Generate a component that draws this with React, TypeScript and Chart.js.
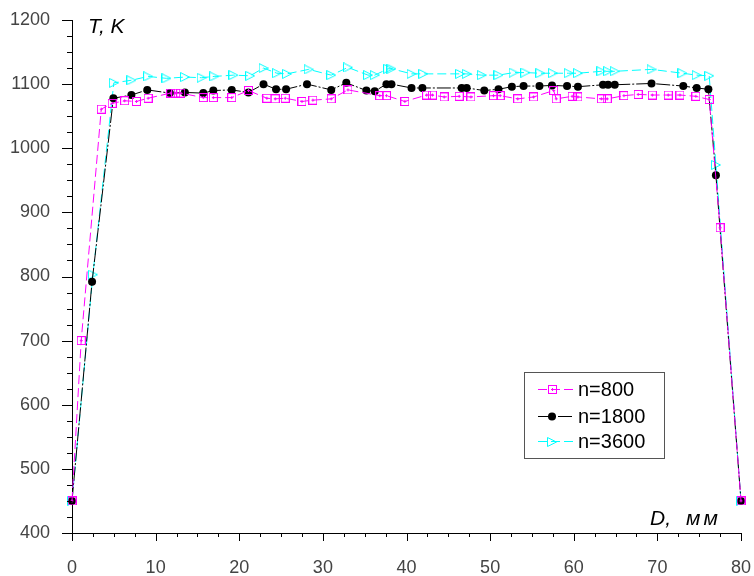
import React, { useEffect, useRef } from 'react';
import { Chart, registerables } from 'chart.js';
Chart.register(...registerables);

// ---- data ----
const seriesLabels = ['n=800', 'n=1800', 'n=3600'];

const d800 = [0, 1.1, 3.5, 4.8, 6.3, 7.7, 9.1, 11.8, 12.4, 13.0, 15.7, 16.9, 19.1, 21.1, 23.3, 24.3, 25.5, 27.5, 28.8, 31.0, 33.0, 36.8, 37.6, 39.8, 42.4, 43.1, 44.5, 46.3, 47.7, 50.4, 51.2, 53.3, 55.2, 57.6, 57.9, 59.8, 60.5, 63.3, 64.0, 66.0, 67.7, 69.4, 71.3, 72.7, 74.6, 76.2, 77.5, 80];
const t800 = [450, 700, 1061, 1070, 1074, 1073, 1078, 1086, 1086, 1086, 1079, 1079, 1079, 1090, 1078, 1077, 1078, 1073, 1075, 1077, 1091, 1082, 1082, 1073, 1083, 1083, 1080, 1081, 1080, 1082, 1082, 1077, 1080, 1090, 1077, 1081, 1080, 1077, 1077, 1082, 1084, 1083, 1083, 1083, 1081, 1076, 876, 450];

const d1800 = [0, 2.4, 4.95, 7.1, 9.0, 11.7, 13.5, 15.7, 16.9, 19.1, 21.1, 22.9, 24.4, 25.6, 28.1, 31.0, 32.8, 35.2, 36.2, 37.6, 38.2, 40.6, 41.9, 46.6, 47.2, 49.3, 51.0, 52.6, 54.0, 55.9, 57.4, 59.2, 60.5, 63.5, 64.1, 64.9, 69.3, 73.1, 74.7, 76.1, 77.0, 80];
const t1800 = [450, 792, 1078, 1083, 1091, 1086, 1087, 1086, 1090, 1091, 1087, 1100, 1092, 1092, 1100, 1091, 1102, 1090, 1089, 1100, 1100, 1094, 1094, 1094, 1094, 1090, 1092, 1096, 1097, 1097, 1098, 1097, 1096, 1099, 1099, 1099, 1101, 1097, 1094, 1092, 958, 450];

const d3600 = [0, 2.5, 5.0, 7.1, 9.1, 11.3, 13.5, 15.5, 17.0, 19.3, 21.3, 22.9, 24.5, 25.7, 28.3, 31.0, 33.0, 35.4, 36.2, 37.8, 38.2, 40.6, 42.0, 46.4, 47.2, 49.0, 51.0, 52.8, 54.2, 56.0, 57.5, 59.4, 60.5, 63.3, 64.1, 64.9, 69.3, 73.0, 74.7, 76.2, 77.0, 80];
const t3600 = [450, 803, 1102, 1106, 1112, 1109, 1111, 1110, 1112, 1114, 1113, 1125, 1117, 1116, 1123, 1114, 1126, 1114, 1114, 1124, 1124, 1116, 1116, 1116, 1116, 1114, 1114, 1118, 1118, 1117, 1117, 1117, 1117, 1120, 1120, 1120, 1123, 1117, 1114, 1113, 974, 450];

const xTickValues = [0, 10, 20, 30, 40, 50, 60, 70, 80];
const xTickLabels = ['0', '10', '20', '30', '40', '50', '60', '70', '80'];
const yTickValues = [400, 500, 600, 700, 800, 900, 1000, 1100, 1200];
const yTickLabels = ['400', '500', '600', '700', '800', '900', '1000', '1100', '1200'];
const yTitle = 'T, K';
const xTitleA = 'D,';
const xTitleB = 'мм';

const MAGENTA = '#ff00ff';
const CYAN = '#00ffff';
const BLACK = '#000000';
const FONT = '"Liberation Sans", Arial, sans-serif';

function makeSquare(): HTMLCanvasElement {
  const c = document.createElement('canvas');
  c.width = 9; c.height = 9;
  const g = c.getContext('2d')!;
  g.strokeStyle = MAGENTA; g.lineWidth = 1;
  g.strokeRect(0.5, 0.5, 8, 8);
  g.beginPath();
  g.moveTo(4.5, 3); g.lineTo(4.5, 6);
  g.moveTo(3, 4.5); g.lineTo(6, 4.5);
  g.stroke();
  return c;
}
function makeTriangle(): HTMLCanvasElement {
  const c = document.createElement('canvas');
  c.width = 10; c.height = 10;
  const g = c.getContext('2d')!;
  g.strokeStyle = CYAN; g.lineWidth = 1;
  g.beginPath();
  g.moveTo(0.5, 0.5); g.lineTo(9.5, 5); g.lineTo(0.5, 9.5); g.closePath();
  g.stroke();
  return c;
}

function pts(xs: number[], ys: number[]) {
  return xs.map((x, i) => ({ x, y: ys[i] }));
}

function zeroPad(s: any) {
  s.paddingLeft = 0; s.paddingRight = 0; s.paddingTop = 0; s.paddingBottom = 0;
}

export default function App() {
  const ref = useRef<HTMLCanvasElement | null>(null);
  useEffect(() => {
    if (!ref.current) return;
    const sq = makeSquare();
    const tri = makeTriangle();

    const ticksPlugin = {
      id: 'axisTicks',
      afterDraw(chart: any) {
        const { ctx, scales, chartArea } = chart;
        const xs = scales.x, ys = scales.y;
        ctx.save();
        ctx.strokeStyle = '#000';
        ctx.lineWidth = 1;
        ctx.beginPath();
        for (let v = ys.min; v <= ys.max + 0.01; v += 25) {
          const py = Math.round(ys.getPixelForValue(v)) + 0.5;
          const len = Math.abs(v % 100) < 0.01 ? 10 : 5;
          ctx.moveTo(chartArea.left - len, py);
          ctx.lineTo(chartArea.left + 0.5, py);
        }
        for (let v = xs.min; v <= xs.max + 0.01; v += 2.5) {
          const px = Math.round(xs.getPixelForValue(v)) + 0.5;
          const len = Math.abs(v % 10) < 0.01 ? 8 : 4;
          ctx.moveTo(px, chartArea.bottom);
          ctx.lineTo(px, chartArea.bottom + len);
        }
        ctx.stroke();

        // axis titles
        ctx.fillStyle = '#000';
        ctx.font = `italic 21px ${FONT}`;
        ctx.textAlign = 'left';
        ctx.textBaseline = 'alphabetic';
        ctx.fillText(yTitle, 88, 33);
        ctx.fillText(xTitleA, 650, 525);
        try { (ctx as any).letterSpacing = '3px'; } catch (e) { /* ignore */ }
        ctx.fillText(xTitleB, 686, 525);
        try { (ctx as any).letterSpacing = '0px'; } catch (e) { /* ignore */ }

        // legend
        const bx = 524, by = 372, bw = 140, bh = 86;
        ctx.fillStyle = '#fff';
        ctx.fillRect(bx, by, bw, bh);
        ctx.strokeStyle = '#555';
        ctx.setLineDash([]);
        ctx.strokeRect(bx + 0.5, by + 0.5, bw, bh);
        const rows = [389, 416, 441];
        chart.data.datasets.forEach((ds: any, i: number) => {
          const ry = rows[i] + 0.5;
          ctx.strokeStyle = ds.borderColor;
          ctx.lineWidth = 1;
          ctx.setLineDash(ds.borderDash || []);
          ctx.beginPath();
          ctx.moveTo(538, ry);
          ctx.lineTo(574, ry);
          ctx.stroke();
          ctx.setLineDash([]);
          const ps = ds.pointStyle;
          if (ps instanceof HTMLCanvasElement) {
            ctx.drawImage(ps, Math.round(552 - ps.width / 2), Math.round(ry - ps.height / 2));
          } else {
            ctx.fillStyle = ds.pointBackgroundColor;
            ctx.beginPath();
            ctx.arc(552, ry, ds.pointRadius, 0, Math.PI * 2);
            ctx.fill();
          }
          ctx.fillStyle = '#000';
          ctx.font = `20px ${FONT}`;
          ctx.textBaseline = 'middle';
          ctx.fillText(ds.label, 578, ry + 1);
        });
        ctx.restore();
      },
    };

    const chart = new Chart(ref.current, {
      type: 'line',
      data: {
        datasets: [
          {
            label: seriesLabels[0],
            data: pts(d800, t800),
            borderColor: MAGENTA,
            borderWidth: 1,
            borderDash: [9, 4],
            pointStyle: sq,
            pointRadius: 4.5,
            pointBackgroundColor: MAGENTA,
            pointBorderColor: MAGENTA,
            fill: false,
            tension: 0,
            clip: false,
          } as any,
          {
            label: seriesLabels[1],
            data: pts(d1800, t1800),
            borderColor: BLACK,
            borderWidth: 1,
            borderDash: [14, 2, 2, 2],
            pointStyle: 'circle',
            pointRadius: 4,
            pointBorderWidth: 0,
            pointBackgroundColor: BLACK,
            pointBorderColor: BLACK,
            fill: false,
            tension: 0,
            clip: false,
          } as any,
          {
            label: seriesLabels[2],
            data: pts(d3600, t3600),
            borderColor: CYAN,
            borderWidth: 1,
            borderDash: [9, 4],
            pointStyle: tri,
            pointRadius: 5,
            pointBackgroundColor: CYAN,
            pointBorderColor: CYAN,
            fill: false,
            tension: 0,
            clip: false,
          } as any,
        ],
      },
      options: {
        responsive: false,
        animation: false,
        devicePixelRatio: 1,
        events: [],
        layout: { padding: { top: 20, right: 13, left: 0, bottom: 0 } },
        plugins: { legend: { display: false }, tooltip: { enabled: false } },
        scales: {
          x: {
            type: 'linear',
            min: 0,
            max: 80,
            afterFit: (s: any) => { s.height = 43; zeroPad(s); },
            afterBuildTicks: (s: any) => { s.ticks = xTickValues.map((v) => ({ value: v })); },
            grid: { display: false, drawTicks: false },
            border: { display: true, color: '#000', width: 1 },
            ticks: {
              padding: 24,
              color: '#444',
              font: { family: FONT, size: 18 },
              maxRotation: 0,
              autoSkip: false,
              callback: (v: any) => xTickLabels[xTickValues.indexOf(Number(v))] ?? '',
            },
          },
          y: {
            type: 'linear',
            min: 400,
            max: 1200,
            afterFit: (s: any) => { s.width = 72; zeroPad(s); },
            afterBuildTicks: (s: any) => { s.ticks = yTickValues.map((v) => ({ value: v })); },
            grid: { display: false, drawTicks: false },
            border: { display: true, color: '#000', width: 1 },
            ticks: {
              padding: 22,
              color: '#444',
              font: { family: FONT, size: 18 },
              autoSkip: false,
              callback: (v: any) => yTickLabels[yTickValues.indexOf(Number(v))] ?? '',
            },
          },
        },
      } as any,
      plugins: [ticksPlugin],
    });
    return () => chart.destroy();
  }, []);

  return (
    <div style={{ position: 'fixed', left: 0, top: 0, width: 754, height: 576, background: '#fff' }}>
      <canvas ref={ref} width={754} height={576} style={{ width: 754, height: 576, display: 'block' }} />
    </div>
  );
}
